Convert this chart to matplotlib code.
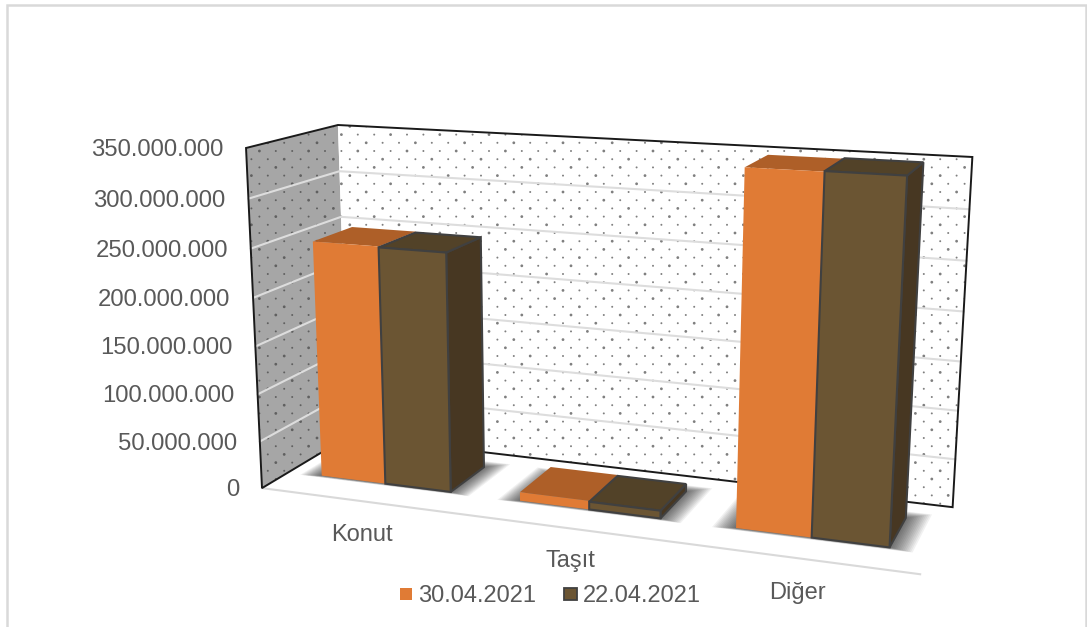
import numpy as np
import matplotlib
matplotlib.use("Agg")
import matplotlib.pyplot as plt
from matplotlib.patches import Polygon, Rectangle

plt.rcParams['font.family'] = ['Liberation Sans', 'DejaVu Sans']

categories = ['Konut', 'Taşıt', 'Diğer']
series_names = ['30.04.2021', '22.04.2021']
values_30 = [249500000, 9000000, 349000000]
values_22 = [248500000, 8000000, 349500000]
ticks = [0, 50000000, 100000000, 150000000, 200000000, 250000000, 300000000, 350000000]
tick_labels = ['0', '50.000.000', '100.000.000', '150.000.000', '200.000.000',
               '250.000.000', '300.000.000', '350.000.000']

zmax = 350000000.0
text_col = '#595959'

# world (category, depth, value/zmax) -> pixel, solved from the wall corners
def camera():
    world = [(0,0,0),(0,0,1),(0,1,0),(0,1,1),(3,1,0),(3,1,1),(3,0,0)]
    pix = [(263,488),(245,148),(339,437),(339,125),(953,507),(972,157),(920,575)]
    weight = [3,3,1,3,2,2,1]
    rows = []
    for (x,y,z),(u,v),w in zip(world,pix,weight):
        rows.append([w*c for c in [x,y,z,1,0,0,0,0,-u*x,-u*y,-u*z,-u]])
        rows.append([w*c for c in [0,0,0,0,x,y,z,1,-v*x,-v*y,-v*z,-v]])
    _,_,vt = np.linalg.svd(np.array(rows,dtype=float))
    return vt[-1].reshape(3,4)

P = camera()

def proj(x,y,val):
    p = P.dot([x,y,val/zmax,1.0])
    return (p[0]/p[2], p[1]/p[2])

def quad(ax,pts,**kw):
    poly = Polygon([proj(*q) for q in pts],closed=True,**kw)
    ax.add_patch(poly)
    return poly

def dots(ax,poly,col):
    # stippled wall fill
    xs,ys,ss = [],[],[]
    for j,yy in enumerate(np.arange(110,530,8.2)):
        for i,xx in enumerate(np.arange(235+(j%2)*8,985,16.4)):
            xs.append(xx); ys.append(yy)
            ss.append(4.0 if (i+j)%3==0 else 2.0)
    s = ax.scatter(xs,ys,s=ss,color=col,linewidths=0,zorder=poly.get_zorder()+0.1)
    s.set_clip_path(poly)

def shadow(ax,x0,x1,y0,y1):
    for m in np.linspace(0.10,0.005,14):
        quad(ax,[(x0-m,y0-m*0.3,0),(x1+m,y0-m*0.3,0),(x1+m,y1+m,0),(x0-m,y1+m,0)],
             facecolor='black',edgecolor='none',alpha=0.055,zorder=3)

def bar(ax,x0,x1,y0,y1,val,front,top,side,edge,z):
    lw = 1.5 if edge!='none' else 0
    quad(ax,[(x1,y0,0),(x1,y1,0),(x1,y1,val),(x1,y0,val)],facecolor=side,edgecolor=edge,linewidth=lw,zorder=z)
    quad(ax,[(x0,y0,val),(x1,y0,val),(x1,y1,val),(x0,y1,val)],facecolor=top,edgecolor=edge,linewidth=lw,zorder=z)
    quad(ax,[(x0,y0,0),(x1,y0,0),(x1,y0,val),(x0,y0,val)],facecolor=front,edgecolor=edge,linewidth=lw,zorder=z)

fig = plt.figure(figsize=(10.87,6.27),dpi=100)
ax = fig.add_axes([0,0,1,1])
ax.set_xlim(0,1087)
ax.set_ylim(627,0)
ax.axis('off')

# chart frame, open at the bottom
ax.plot([7,7,1085.5,1085.5],[627,5,5,627],color='#D9D9D9',lw=1.8,zorder=0,solid_joinstyle='miter')

# walls
left = quad(ax,[(0,0,0),(0,1,0),(0,1,zmax),(0,0,zmax)],facecolor='#A6A6A6',edgecolor='none',zorder=1)
back = quad(ax,[(0,1,0),(3,1,0),(3,1,zmax),(0,1,zmax)],facecolor='white',edgecolor='none',zorder=1)
dots(ax,left,'#606060')
dots(ax,back,'#7F7F7F')

for t in ticks[1:-1]:
    a,b,c = proj(0,0,t),proj(0,1,t),proj(3,1,t)
    ax.plot([a[0],b[0],c[0]],[a[1],b[1],c[1]],color='#DDDDDD',lw=1.5,zorder=2)

# wall outlines
out = [proj(0,1,0),proj(0,0,0),proj(0,0,zmax),proj(0,1,zmax),proj(3,1,zmax),proj(3,1,0),proj(0,1,0)]
ax.plot([p[0] for p in out],[p[1] for p in out],color='#1A1A1A',lw=1.4,zorder=2.5,solid_joinstyle='miter')

# floor front edge
a,b = proj(0,0,0),proj(3,0,0)
ax.plot([a[0],b[0]],[a[1],b[1]],color='#D9D9D9',lw=1.5,zorder=2)

bw = 0.33
y0,y1 = 0.30,0.75
for i in range(len(categories)):
    x0 = i+0.17
    shadow(ax,x0,x0+2*bw,y0,y1)
    bar(ax,x0,x0+bw,y0,y1,values_30[i],'#E07B35','#AE5F28','#A85A25','none',4+i)
    bar(ax,x0+bw,x0+2*bw,y0,y1,values_22[i],'#6B5533','#524228','#473722','#404040',4.5+i)

for t,lab in zip(ticks,tick_labels):
    px,py = proj(0,0,t)
    ax.text(px-23,py+2,lab,ha='right',va='center',fontsize=17.2,color=text_col)

ax.text(362,535,categories[0],ha='center',va='center',fontsize=17,color=text_col)
ax.text(570,561,categories[1],ha='center',va='center',fontsize=17,color=text_col)
ax.text(797,593,categories[2],ha='center',va='center',fontsize=17,color=text_col)

# legend
ax.add_patch(Rectangle((400,588),12,12,facecolor='#E07B35',edgecolor='none',zorder=5))
ax.add_patch(Rectangle((564,588),13,12,facecolor='#6B5533',edgecolor='#404040',linewidth=1.3,zorder=5))
ax.text(418,596,series_names[0],ha='left',va='center',fontsize=17,color=text_col)
ax.text(583,596,series_names[1],ha='left',va='center',fontsize=17,color=text_col)

fig.savefig('out.png',dpi=100)
